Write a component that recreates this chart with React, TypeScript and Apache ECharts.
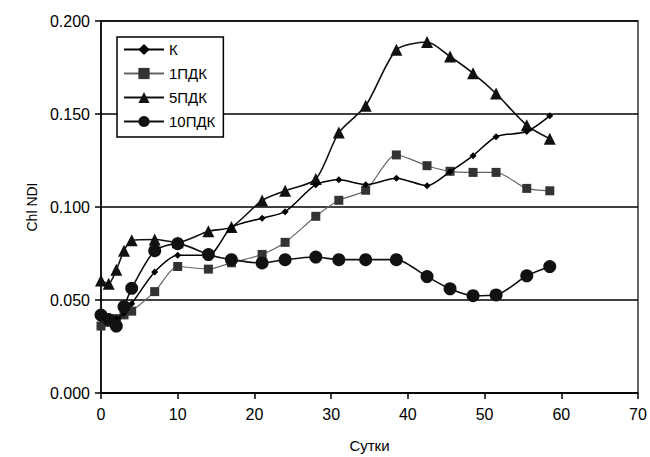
import React, { useEffect, useRef } from "react";
import * as echarts from "echarts";

const days = [0, 1, 2, 3, 4, 7, 10, 14, 17, 21, 24, 28, 31, 34.5, 38.5, 42.5, 45.5, 48.5, 51.5, 55.5, 58.5];
const seriesK = [0.040, 0.041, 0.040, 0.043, 0.048, 0.065, 0.074, 0.074, 0.089, 0.094, 0.0975, 0.112, 0.1146, 0.112, 0.1155, 0.1114, 0.119, 0.1276, 0.1378, 0.1406, 0.149];
const series1 = [0.036, 0.038, 0.040, 0.042, 0.044, 0.0545, 0.068, 0.0666, 0.070, 0.0745, 0.081, 0.095, 0.1036, 0.109, 0.128, 0.1222, 0.1192, 0.1186, 0.1186, 0.110, 0.1087];
const series5 = [0.0605, 0.0587, 0.0663, 0.0765, 0.0821, 0.0825, 0.081, 0.087, 0.0892, 0.1035, 0.1087, 0.115, 0.140, 0.1544, 0.1845, 0.1887, 0.1809, 0.1719, 0.161, 0.1439, 0.1367];
const series10 = [0.0419, 0.0395, 0.036, 0.0464, 0.0563, 0.0765, 0.0803, 0.0744, 0.0717, 0.0699, 0.0717, 0.0731, 0.0717, 0.0717, 0.0717, 0.0626, 0.056, 0.0523, 0.0527, 0.063, 0.068];
const names = ["К", "1ПДК", "5ПДК", "10ПДК"];

const pairs = (vals: number[]) => days.map((d, i) => [d, vals[i]]);

export default function App() {
  const ref = useRef<HTMLDivElement>(null);
  useEffect(() => {
    if (!ref.current) return;
    const chart = echarts.init(ref.current, null, { renderer: "svg" });
    const font = "Liberation Sans, Arial, sans-serif";
    chart.setOption({
      animation: false,
      backgroundColor: "#fff",
      grid: {
        left: 101, right: 12, top: 21, bottom: 64,
        outerBoundsMode: "none", containLabel: false,
        show: true, borderColor: "#666", borderWidth: 2, backgroundColor: "transparent",
      },
      legend: {
        orient: "vertical",
        left: 117,
        top: 37,
        data: names,
        itemWidth: 40,
        itemHeight: 14,
        itemGap: 9,
        padding: [5, 8, 8, 6],
        borderColor: "#000",
        borderWidth: 1.5,
        backgroundColor: "#fff",
        textStyle: { fontFamily: font, fontSize: 15, color: "#000" },
      },
      xAxis: {
        type: "value",
        min: 0,
        max: 70,
        interval: 10,
        name: "Сутки",
        nameLocation: "middle",
        nameGap: 45,
        nameTextStyle: { fontFamily: font, fontSize: 15, color: "#000" },
        axisLine: { lineStyle: { color: "#000", width: 1.5 } },
        axisTick: { inside: false, length: 6, lineStyle: { color: "#000", width: 1.5 } },
        axisLabel: { margin: 13, fontFamily: font, fontSize: 16, color: "#000" },
        splitLine: { show: false },
      },
      yAxis: {
        type: "value",
        min: 0,
        max: 0.2,
        interval: 0.05,
        name: "Chl NDI",
        nameLocation: "middle",
        nameGap: 53,
        nameTextStyle: { fontFamily: font, fontSize: 14, color: "#000" },
        axisLine: { show: true, lineStyle: { color: "#000", width: 1.5 } },
        axisTick: { show: true, inside: false, length: 6, lineStyle: { color: "#000", width: 1.5 } },
        axisLabel: { margin: 11, fontFamily: font, fontSize: 16, color: "#000", formatter: (v: number) => v.toFixed(3) },
        splitLine: { show: true, lineStyle: { color: "#000", width: 1.5 } },
      },
      series: [
        {
          name: names[0], type: "line", data: pairs(seriesK), smooth: 0.25,
          symbol: "diamond", symbolSize: 7,
          lineStyle: { color: "#000", width: 1.5 }, itemStyle: { color: "#000" }, z: 4,
        },
        {
          name: names[1], type: "line", data: pairs(series1), smooth: 0.25,
          symbol: "rect", symbolSize: 9,
          lineStyle: { color: "#666", width: 1.2 }, itemStyle: { color: "#333" }, z: 3,
        },
        {
          name: names[2], type: "line", data: pairs(series5), smooth: 0.25,
          symbol: "triangle", symbolSize: 12,
          lineStyle: { color: "#111", width: 1.6 }, itemStyle: { color: "#111" }, z: 2,
        },
        {
          name: names[3], type: "line", data: pairs(series10), smooth: 0.25,
          symbol: "circle", symbolSize: 13,
          lineStyle: { color: "#111", width: 1.6 }, itemStyle: { color: "#111" }, z: 5,
        },
      ],
    });
    return () => chart.dispose();
  }, []);
  return <div ref={ref} style={{ width: 650, height: 457, position: "absolute", left: 0, top: 0 }} />;
}
